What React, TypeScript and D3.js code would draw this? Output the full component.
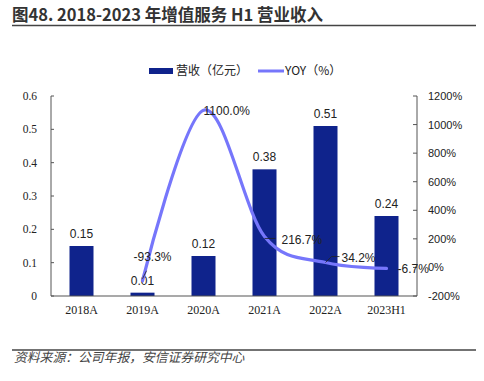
import React from "react";
import * as d3 from "d3";

const categories = ["2018A", "2019A", "2020A", "2021A", "2022A", "2023H1"];
const revenue = [0.15, 0.01, 0.12, 0.38, 0.51, 0.24];
const yoyCats = ["2019A", "2020A", "2021A", "2022A", "2023H1"];
const yoy = [-93.3, 1100.0, 216.7, 34.2, -6.7];
const leftTicks = [0, 0.1, 0.2, 0.3, 0.4, 0.5, 0.6];
const rightTicks = [-200, 0, 200, 400, 600, 800, 1000, 1200];

const BAR = "#0f238c";
const LINE = "#7676fb";
const SANS = "'Liberation Sans', Arial, sans-serif";
const SERIF = "'Liberation Serif', 'Times New Roman', serif";
const CJK = "'Noto Sans CJK SC', sans-serif";

// label offsets for YOY labels (dx, dy relative to point) and leader lines
const yoyLabelPos: { dx: number; dy: number; anchor: string; leader?: number[][] }[] = [
  { dx: 10, dy: -24, anchor: "middle", leader: [[0, -2], [4, -10]] },
  { dx: 0, dy: 1, anchor: "start" },
  { dx: 17, dy: 4, anchor: "start", leader: [[0, 2], [11, 2]] },
  { dx: 16, dy: -5, anchor: "start", leader: [[0, 0], [6, -6], [14, -6]] },
  { dx: 11, dy: 1, anchor: "start" },
];

export default function App() {
  const W = 484, H = 381;
  const x0 = 51, x1 = 417, yTop = 96, yBot = 296;
  const xc = d3.scaleBand().domain(categories).range([x0, x1]);
  const yL = d3.scaleLinear().domain([0, 0.6]).range([yBot, yTop]);
  const yR = d3.scaleLinear().domain([-200, 1200]).range([yBot, yTop]);
  const cx = (c: string) => (xc(c) as number) + xc.bandwidth() / 2;
  const pts: [number, number][] = yoyCats.map((c, i) => [cx(c), yR(yoy[i])]);
  const line = d3.line().curve(d3.curveCardinal.tension(0))(pts) as string;
  const bw = 24;

  return (
    <svg width={W} height={H} style={{ position: "absolute", left: 0, top: 0, background: "#fff" }}>
      <rect width={W} height={H} fill="#fff" />
      {/* Title */}
      <text x={12} y={20.5} fontFamily={CJK} fontSize={16.5} fontWeight="bold" fill="#333">
        图48. 2018-2023 年增值服务 H1 营业收入
      </text>
      <line x1={12} x2={476} y1={25.5} y2={25.5} stroke="#444" strokeWidth={1.5} />

      {/* Legend */}
      <rect x={149} y={68} width={24} height={6} fill={BAR} />
      <text x={176} y={75} fontFamily={CJK} fontSize={12} fill="#222">营收（亿元）</text>
      <line x1={258} x2={284} y1={71} y2={71} stroke={LINE} strokeWidth={3} />
      <text x={285} y={75} fontFamily={CJK} fontSize={12} fill="#222">YOY（%）</text>

      {/* Bars */}
      {categories.map((c, i) => (
        <rect key={c} x={cx(c) - bw / 2} y={yL(revenue[i])} width={bw} height={yBot - yL(revenue[i])} fill={BAR} />
      ))}
      {categories.map((c, i) => (
        <text key={"l" + c} x={cx(c)} y={yL(revenue[i]) - 8} textAnchor="middle" fontFamily={SANS} fontSize={12} fill="#222">
          {revenue[i].toFixed(2)}
        </text>
      ))}

      {/* Axes */}
      <line x1={x0} x2={x0} y1={yTop} y2={yBot} stroke="#555" strokeWidth={1} />
      <line x1={x1} x2={x1} y1={yTop} y2={yBot} stroke="#555" strokeWidth={1} />
      <line x1={x0} x2={x1} y1={yBot} y2={yBot} stroke="#555" strokeWidth={1.2} />
      {leftTicks.map((t) => (
        <g key={"lt" + t}>
          <line x1={x0} x2={x0 + 3} y1={yL(t)} y2={yL(t)} stroke="#555" />
          <text x={37} y={yL(t) + 4} textAnchor="end" fontFamily={SERIF} fontSize={11.5} fill="#222">
            {t === 0 ? "0" : t.toFixed(1)}
          </text>
        </g>
      ))}
      {rightTicks.map((t) => (
        <g key={"rt" + t}>
          <line x1={x1 - 4} x2={x1} y1={yR(t)} y2={yR(t)} stroke="#555" />
          <text x={428} y={yR(t) + 4} textAnchor="start" fontFamily={SANS} fontSize={11} fill="#222">
            {t + "%"}
          </text>
        </g>
      ))}
      {categories.map((c) => (
        <text key={"c" + c} x={cx(c)} y={314} textAnchor="middle" fontFamily={SERIF} fontSize={12} fill="#222">
          {c}
        </text>
      ))}

      {/* YOY line */}
      <path d={line} fill="none" stroke={LINE} strokeWidth={3.2} strokeLinejoin="round" strokeLinecap="round" />
      {pts.map((p, i) => {
        const pos = yoyLabelPos[i];
        return (
          <g key={"y" + i}>
            {pos.leader && (
              <polyline
                points={pos.leader.map((q) => `${p[0] + q[0]},${p[1] + q[1]}`).join(" ")}
                fill="none"
                stroke="#222"
                strokeWidth={0.8}
              />
            )}
            <text x={p[0] + pos.dx} y={p[1] + pos.dy + 4} textAnchor={pos.anchor} fontFamily={SANS} fontSize={12} fill="#222">
              {yoy[i].toFixed(1) + "%"}
            </text>
          </g>
        );
      })}

      {/* Footer */}
      <line x1={12} x2={476} y1={350} y2={350} stroke="#444" strokeWidth={1.5} />
      <text x={14} y={362} fontFamily={CJK} fontSize={12.8} fontStyle="italic" fill="#444">
        资料来源：公司年报，安信证券研究中心
      </text>
    </svg>
  );
}
